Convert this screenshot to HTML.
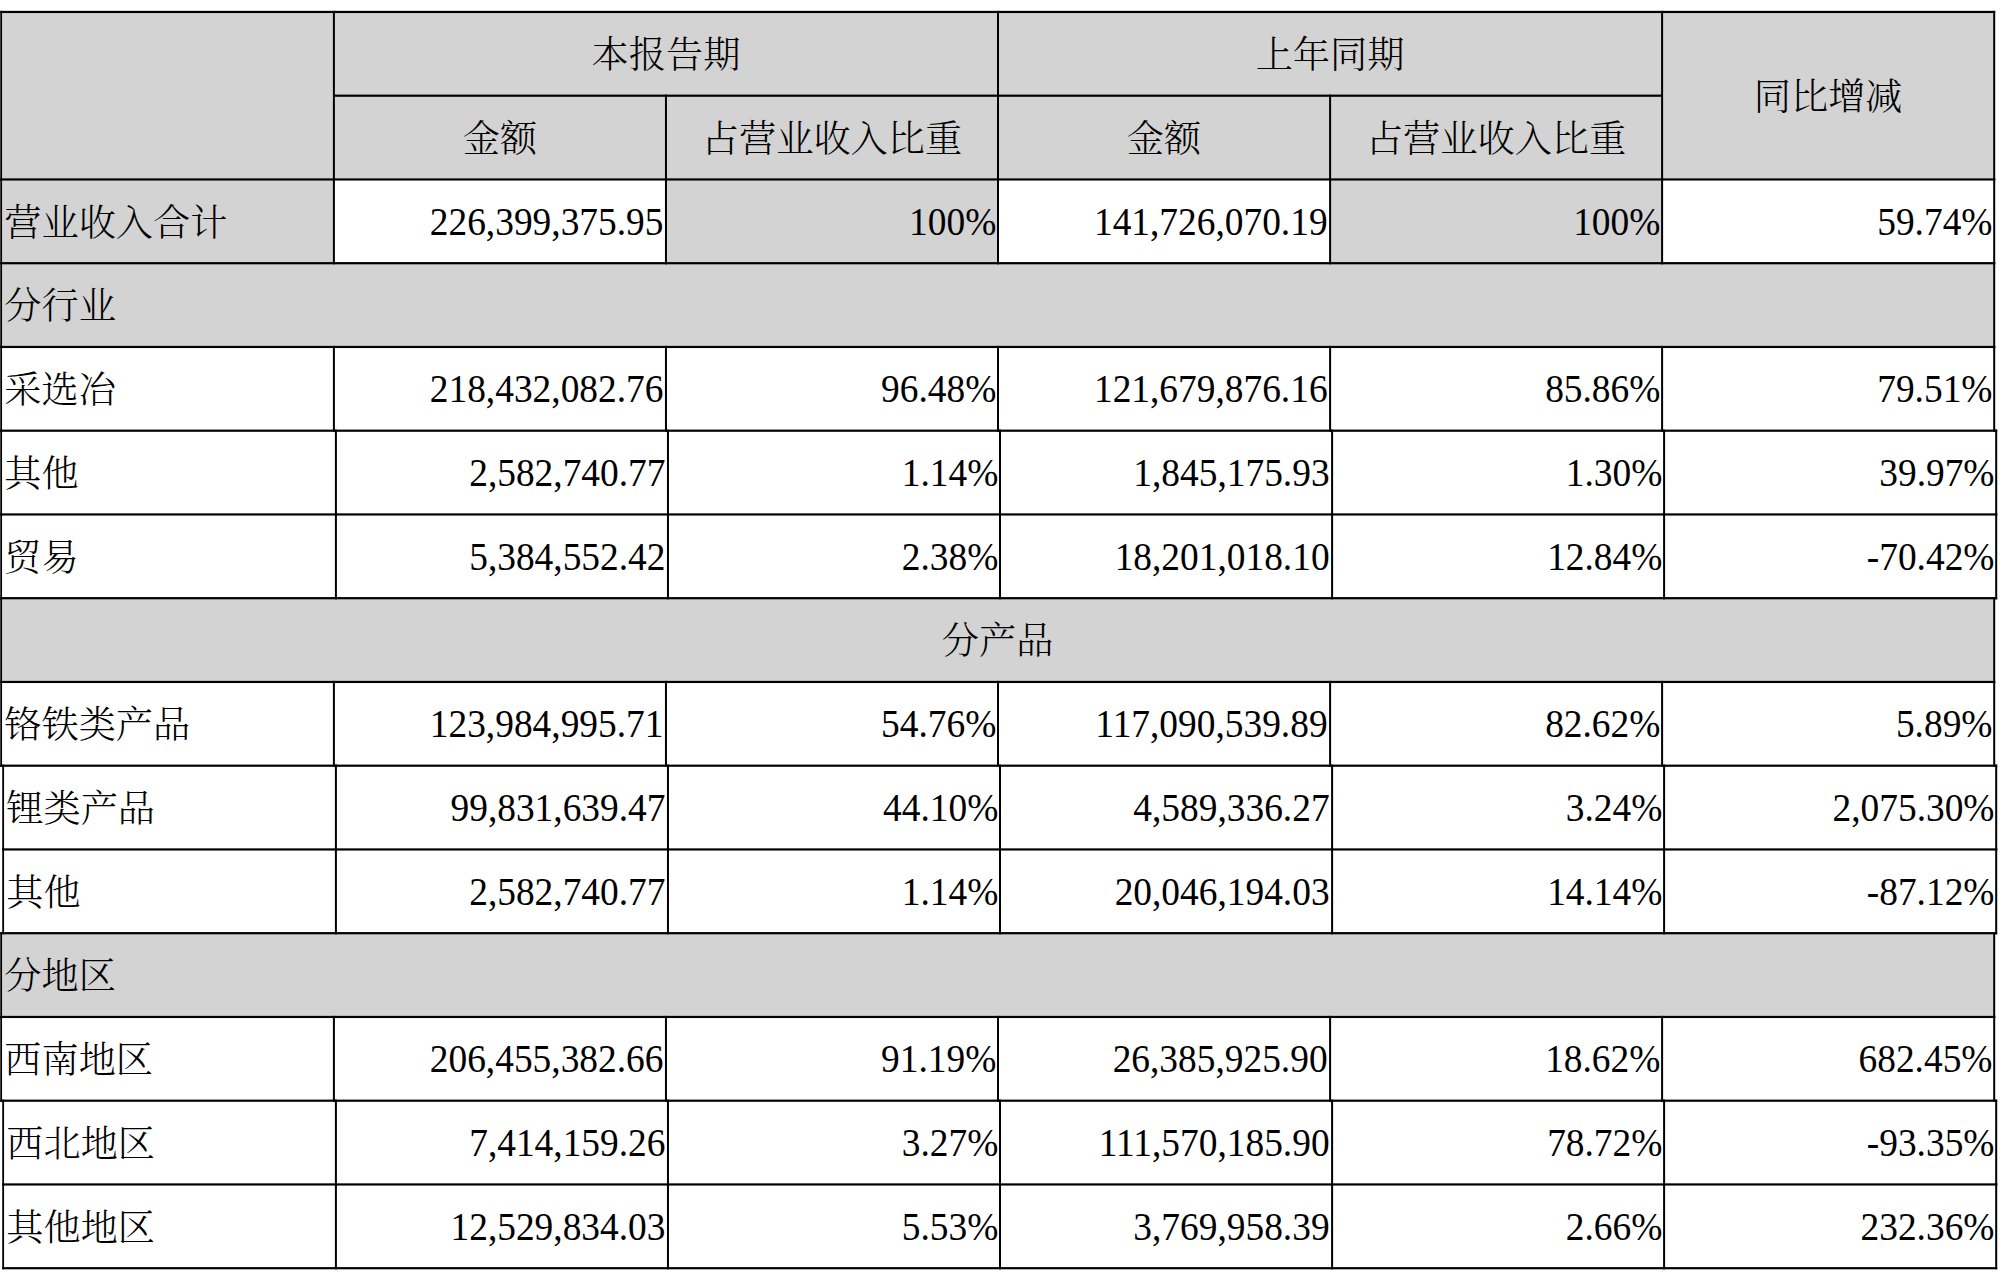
<!DOCTYPE html>
<html lang="zh-CN"><head><meta charset="utf-8"><title>营业收入构成</title>
<style>
html,body{margin:0;padding:0;background:#fff;}
body{width:2012px;height:1273px;overflow:hidden;}
svg{display:block;position:absolute;left:0;top:0;}
text{font-family:"Liberation Serif","Noto Serif CJK SC",serif;fill:#000;}
text.c{font-size:37.2px;font-weight:300;}
text.n{font-size:37.4px;}
</style></head><body>
<svg width="2012" height="1273" viewBox="0 0 2012 1273">
<g>
<rect x="1.00" y="10.85" width="1993.20" height="167.50" fill="#d3d3d3"/>
<rect x="1.00" y="262.10" width="1993.20" height="83.75" fill="#d3d3d3"/>
<rect x="1.00" y="597.10" width="1993.20" height="83.75" fill="#d3d3d3"/>
<rect x="1.00" y="932.10" width="1993.20" height="83.75" fill="#d3d3d3"/>
<rect x="1.00" y="178.35" width="332.90" height="83.75" fill="#d3d3d3"/>
<rect x="665.96" y="178.35" width="332.04" height="83.75" fill="#d3d3d3"/>
<rect x="1330.10" y="178.35" width="332.00" height="83.75" fill="#d3d3d3"/>
</g>
<g>
<rect x="0.25" y="10.85" width="1994.95" height="2.20" fill="#000"/>
<rect x="333.90" y="94.60" width="1328.20" height="2.20" fill="#000"/>
<rect x="0.25" y="10.85" width="1.80" height="169.70" fill="#000"/>
<rect x="332.90" y="10.85" width="2.00" height="169.70" fill="#000"/>
<rect x="997.00" y="10.85" width="2.00" height="169.70" fill="#000"/>
<rect x="1661.10" y="10.85" width="2.00" height="169.70" fill="#000"/>
<rect x="1993.20" y="10.85" width="2.00" height="169.70" fill="#000"/>
<rect x="664.96" y="94.60" width="2.00" height="85.95" fill="#000"/>
<rect x="1329.10" y="94.60" width="2.00" height="85.95" fill="#000"/>
<rect x="0.25" y="178.35" width="1994.95" height="2.20" fill="#000"/>
<rect x="0.25" y="262.10" width="1.80" height="85.95" fill="#000"/>
<rect x="1993.20" y="262.10" width="2.00" height="85.95" fill="#000"/>
<rect x="0.25" y="597.10" width="1.80" height="85.95" fill="#000"/>
<rect x="1993.20" y="597.10" width="2.00" height="85.95" fill="#000"/>
<rect x="0.25" y="932.10" width="1.80" height="85.95" fill="#000"/>
<rect x="1993.20" y="932.10" width="2.00" height="85.95" fill="#000"/>
<rect x="0.25" y="178.35" width="1.80" height="85.95" fill="#000"/>
<rect x="332.90" y="178.35" width="2.00" height="85.95" fill="#000"/>
<rect x="664.96" y="178.35" width="2.00" height="85.95" fill="#000"/>
<rect x="997.00" y="178.35" width="2.00" height="85.95" fill="#000"/>
<rect x="1329.10" y="178.35" width="2.00" height="85.95" fill="#000"/>
<rect x="1661.10" y="178.35" width="2.00" height="85.95" fill="#000"/>
<rect x="1993.20" y="178.35" width="2.00" height="85.95" fill="#000"/>
<rect x="0.25" y="345.85" width="1.80" height="85.95" fill="#000"/>
<rect x="332.90" y="345.85" width="2.00" height="85.95" fill="#000"/>
<rect x="664.96" y="345.85" width="2.00" height="85.95" fill="#000"/>
<rect x="997.00" y="345.85" width="2.00" height="85.95" fill="#000"/>
<rect x="1329.10" y="345.85" width="2.00" height="85.95" fill="#000"/>
<rect x="1661.10" y="345.85" width="2.00" height="85.95" fill="#000"/>
<rect x="1993.20" y="345.85" width="2.00" height="85.95" fill="#000"/>
<rect x="0.25" y="429.60" width="1.80" height="85.95" fill="#000"/>
<rect x="334.90" y="429.60" width="2.00" height="85.95" fill="#000"/>
<rect x="666.96" y="429.60" width="2.00" height="85.95" fill="#000"/>
<rect x="999.00" y="429.60" width="2.00" height="85.95" fill="#000"/>
<rect x="1331.10" y="429.60" width="2.00" height="85.95" fill="#000"/>
<rect x="1663.10" y="429.60" width="2.00" height="85.95" fill="#000"/>
<rect x="1995.20" y="429.60" width="2.00" height="85.95" fill="#000"/>
<rect x="0.25" y="513.35" width="1.80" height="85.95" fill="#000"/>
<rect x="334.90" y="513.35" width="2.00" height="85.95" fill="#000"/>
<rect x="666.96" y="513.35" width="2.00" height="85.95" fill="#000"/>
<rect x="999.00" y="513.35" width="2.00" height="85.95" fill="#000"/>
<rect x="1331.10" y="513.35" width="2.00" height="85.95" fill="#000"/>
<rect x="1663.10" y="513.35" width="2.00" height="85.95" fill="#000"/>
<rect x="1995.20" y="513.35" width="2.00" height="85.95" fill="#000"/>
<rect x="0.25" y="680.85" width="1.80" height="85.95" fill="#000"/>
<rect x="332.90" y="680.85" width="2.00" height="85.95" fill="#000"/>
<rect x="664.96" y="680.85" width="2.00" height="85.95" fill="#000"/>
<rect x="997.00" y="680.85" width="2.00" height="85.95" fill="#000"/>
<rect x="1329.10" y="680.85" width="2.00" height="85.95" fill="#000"/>
<rect x="1661.10" y="680.85" width="2.00" height="85.95" fill="#000"/>
<rect x="1993.20" y="680.85" width="2.00" height="85.95" fill="#000"/>
<rect x="2.25" y="764.60" width="1.80" height="85.95" fill="#000"/>
<rect x="334.90" y="764.60" width="2.00" height="85.95" fill="#000"/>
<rect x="666.96" y="764.60" width="2.00" height="85.95" fill="#000"/>
<rect x="999.00" y="764.60" width="2.00" height="85.95" fill="#000"/>
<rect x="1331.10" y="764.60" width="2.00" height="85.95" fill="#000"/>
<rect x="1663.10" y="764.60" width="2.00" height="85.95" fill="#000"/>
<rect x="1995.20" y="764.60" width="2.00" height="85.95" fill="#000"/>
<rect x="2.25" y="848.35" width="1.80" height="85.95" fill="#000"/>
<rect x="334.90" y="848.35" width="2.00" height="85.95" fill="#000"/>
<rect x="666.96" y="848.35" width="2.00" height="85.95" fill="#000"/>
<rect x="999.00" y="848.35" width="2.00" height="85.95" fill="#000"/>
<rect x="1331.10" y="848.35" width="2.00" height="85.95" fill="#000"/>
<rect x="1663.10" y="848.35" width="2.00" height="85.95" fill="#000"/>
<rect x="1995.20" y="848.35" width="2.00" height="85.95" fill="#000"/>
<rect x="0.25" y="1015.85" width="1.80" height="85.95" fill="#000"/>
<rect x="332.90" y="1015.85" width="2.00" height="85.95" fill="#000"/>
<rect x="664.96" y="1015.85" width="2.00" height="85.95" fill="#000"/>
<rect x="997.00" y="1015.85" width="2.00" height="85.95" fill="#000"/>
<rect x="1329.10" y="1015.85" width="2.00" height="85.95" fill="#000"/>
<rect x="1661.10" y="1015.85" width="2.00" height="85.95" fill="#000"/>
<rect x="1993.20" y="1015.85" width="2.00" height="85.95" fill="#000"/>
<rect x="2.25" y="1099.60" width="1.80" height="85.95" fill="#000"/>
<rect x="334.90" y="1099.60" width="2.00" height="85.95" fill="#000"/>
<rect x="666.96" y="1099.60" width="2.00" height="85.95" fill="#000"/>
<rect x="999.00" y="1099.60" width="2.00" height="85.95" fill="#000"/>
<rect x="1331.10" y="1099.60" width="2.00" height="85.95" fill="#000"/>
<rect x="1663.10" y="1099.60" width="2.00" height="85.95" fill="#000"/>
<rect x="1995.20" y="1099.60" width="2.00" height="85.95" fill="#000"/>
<rect x="2.25" y="1183.35" width="1.80" height="85.95" fill="#000"/>
<rect x="334.90" y="1183.35" width="2.00" height="85.95" fill="#000"/>
<rect x="666.96" y="1183.35" width="2.00" height="85.95" fill="#000"/>
<rect x="999.00" y="1183.35" width="2.00" height="85.95" fill="#000"/>
<rect x="1331.10" y="1183.35" width="2.00" height="85.95" fill="#000"/>
<rect x="1663.10" y="1183.35" width="2.00" height="85.95" fill="#000"/>
<rect x="1995.20" y="1183.35" width="2.00" height="85.95" fill="#000"/>
<rect x="0.25" y="262.10" width="1994.95" height="2.20" fill="#000"/>
<rect x="0.25" y="345.85" width="1994.95" height="2.20" fill="#000"/>
<rect x="0.25" y="429.60" width="1996.95" height="2.20" fill="#000"/>
<rect x="0.25" y="513.35" width="1996.95" height="2.20" fill="#000"/>
<rect x="0.25" y="597.10" width="1996.95" height="2.20" fill="#000"/>
<rect x="0.25" y="680.85" width="1994.95" height="2.20" fill="#000"/>
<rect x="0.25" y="764.60" width="1996.95" height="2.20" fill="#000"/>
<rect x="2.25" y="848.35" width="1994.95" height="2.20" fill="#000"/>
<rect x="0.25" y="932.10" width="1996.95" height="2.20" fill="#000"/>
<rect x="0.25" y="1015.85" width="1994.95" height="2.20" fill="#000"/>
<rect x="0.25" y="1099.60" width="1996.95" height="2.20" fill="#000"/>
<rect x="2.25" y="1183.35" width="1994.95" height="2.20" fill="#000"/>
<rect x="2.25" y="1267.10" width="1994.95" height="2.20" fill="#000"/>
</g>
<g>
<text class="c" x="665.95" y="68.22" text-anchor="middle">本报告期</text>
<text class="c" x="1330.05" y="68.22" text-anchor="middle">上年同期</text>
<text class="c" x="1828.15" y="110.10" text-anchor="middle">同比增减</text>
<text class="c" x="499.93" y="151.97" text-anchor="middle">金额</text>
<text class="c" x="831.98" y="151.97" text-anchor="middle">占营业收入比重</text>
<text class="c" x="1164.05" y="151.97" text-anchor="middle">金额</text>
<text class="c" x="1496.10" y="151.97" text-anchor="middle">占营业收入比重</text>
<text class="c" x="4.30" y="319.48" text-anchor="start">分行业</text>
<text class="c" x="997.60" y="654.48" text-anchor="middle">分产品</text>
<text class="c" x="4.30" y="989.48" text-anchor="start">分地区</text>
<text class="c" x="4.30" y="235.73" text-anchor="start">营业收入合计</text>
<text class="n" x="663.46" y="223.548" text-anchor="end" transform="scale(1,1.05)">226,399,375.95</text>
<text class="n" x="996.30" y="223.548" text-anchor="end" transform="scale(1,1.05)">100%</text>
<text class="n" x="1327.60" y="223.548" text-anchor="end" transform="scale(1,1.05)">141,726,070.19</text>
<text class="n" x="1660.40" y="223.548" text-anchor="end" transform="scale(1,1.05)">100%</text>
<text class="n" x="1992.50" y="223.548" text-anchor="end" transform="scale(1,1.05)">59.74%</text>
<text class="c" x="4.30" y="403.23" text-anchor="start">采选冶</text>
<text class="n" x="663.46" y="383.071" text-anchor="end" transform="scale(1,1.05)">218,432,082.76</text>
<text class="n" x="996.30" y="383.071" text-anchor="end" transform="scale(1,1.05)">96.48%</text>
<text class="n" x="1327.60" y="383.071" text-anchor="end" transform="scale(1,1.05)">121,679,876.16</text>
<text class="n" x="1660.40" y="383.071" text-anchor="end" transform="scale(1,1.05)">85.86%</text>
<text class="n" x="1992.50" y="383.071" text-anchor="end" transform="scale(1,1.05)">79.51%</text>
<text class="c" x="4.30" y="486.98" text-anchor="start">其他</text>
<text class="n" x="665.46" y="462.833" text-anchor="end" transform="scale(1,1.05)">2,582,740.77</text>
<text class="n" x="998.30" y="462.833" text-anchor="end" transform="scale(1,1.05)">1.14%</text>
<text class="n" x="1329.60" y="462.833" text-anchor="end" transform="scale(1,1.05)">1,845,175.93</text>
<text class="n" x="1662.40" y="462.833" text-anchor="end" transform="scale(1,1.05)">1.30%</text>
<text class="n" x="1994.50" y="462.833" text-anchor="end" transform="scale(1,1.05)">39.97%</text>
<text class="c" x="4.30" y="570.73" text-anchor="start">贸易</text>
<text class="n" x="665.46" y="542.595" text-anchor="end" transform="scale(1,1.05)">5,384,552.42</text>
<text class="n" x="998.30" y="542.595" text-anchor="end" transform="scale(1,1.05)">2.38%</text>
<text class="n" x="1329.60" y="542.595" text-anchor="end" transform="scale(1,1.05)">18,201,018.10</text>
<text class="n" x="1662.40" y="542.595" text-anchor="end" transform="scale(1,1.05)">12.84%</text>
<text class="n" x="1994.50" y="542.595" text-anchor="end" transform="scale(1,1.05)">-70.42%</text>
<text class="c" x="4.30" y="738.23" text-anchor="start">铬铁类产品</text>
<text class="n" x="663.46" y="702.119" text-anchor="end" transform="scale(1,1.05)">123,984,995.71</text>
<text class="n" x="996.30" y="702.119" text-anchor="end" transform="scale(1,1.05)">54.76%</text>
<text class="n" x="1327.60" y="702.119" text-anchor="end" transform="scale(1,1.05)">117,090,539.89</text>
<text class="n" x="1660.40" y="702.119" text-anchor="end" transform="scale(1,1.05)">82.62%</text>
<text class="n" x="1992.50" y="702.119" text-anchor="end" transform="scale(1,1.05)">5.89%</text>
<text class="c" x="6.30" y="821.98" text-anchor="start">锂类产品</text>
<text class="n" x="665.46" y="781.881" text-anchor="end" transform="scale(1,1.05)">99,831,639.47</text>
<text class="n" x="998.30" y="781.881" text-anchor="end" transform="scale(1,1.05)">44.10%</text>
<text class="n" x="1329.60" y="781.881" text-anchor="end" transform="scale(1,1.05)">4,589,336.27</text>
<text class="n" x="1662.40" y="781.881" text-anchor="end" transform="scale(1,1.05)">3.24%</text>
<text class="n" x="1994.50" y="781.881" text-anchor="end" transform="scale(1,1.05)">2,075.30%</text>
<text class="c" x="6.30" y="905.73" text-anchor="start">其他</text>
<text class="n" x="665.46" y="861.643" text-anchor="end" transform="scale(1,1.05)">2,582,740.77</text>
<text class="n" x="998.30" y="861.643" text-anchor="end" transform="scale(1,1.05)">1.14%</text>
<text class="n" x="1329.60" y="861.643" text-anchor="end" transform="scale(1,1.05)">20,046,194.03</text>
<text class="n" x="1662.40" y="861.643" text-anchor="end" transform="scale(1,1.05)">14.14%</text>
<text class="n" x="1994.50" y="861.643" text-anchor="end" transform="scale(1,1.05)">-87.12%</text>
<text class="c" x="4.30" y="1073.22" text-anchor="start">西南地区</text>
<text class="n" x="663.46" y="1021.167" text-anchor="end" transform="scale(1,1.05)">206,455,382.66</text>
<text class="n" x="996.30" y="1021.167" text-anchor="end" transform="scale(1,1.05)">91.19%</text>
<text class="n" x="1327.60" y="1021.167" text-anchor="end" transform="scale(1,1.05)">26,385,925.90</text>
<text class="n" x="1660.40" y="1021.167" text-anchor="end" transform="scale(1,1.05)">18.62%</text>
<text class="n" x="1992.50" y="1021.167" text-anchor="end" transform="scale(1,1.05)">682.45%</text>
<text class="c" x="6.30" y="1156.97" text-anchor="start">西北地区</text>
<text class="n" x="665.46" y="1100.929" text-anchor="end" transform="scale(1,1.05)">7,414,159.26</text>
<text class="n" x="998.30" y="1100.929" text-anchor="end" transform="scale(1,1.05)">3.27%</text>
<text class="n" x="1329.60" y="1100.929" text-anchor="end" transform="scale(1,1.05)">111,570,185.90</text>
<text class="n" x="1662.40" y="1100.929" text-anchor="end" transform="scale(1,1.05)">78.72%</text>
<text class="n" x="1994.50" y="1100.929" text-anchor="end" transform="scale(1,1.05)">-93.35%</text>
<text class="c" x="6.30" y="1240.72" text-anchor="start">其他地区</text>
<text class="n" x="665.46" y="1180.690" text-anchor="end" transform="scale(1,1.05)">12,529,834.03</text>
<text class="n" x="998.30" y="1180.690" text-anchor="end" transform="scale(1,1.05)">5.53%</text>
<text class="n" x="1329.60" y="1180.690" text-anchor="end" transform="scale(1,1.05)">3,769,958.39</text>
<text class="n" x="1662.40" y="1180.690" text-anchor="end" transform="scale(1,1.05)">2.66%</text>
<text class="n" x="1994.50" y="1180.690" text-anchor="end" transform="scale(1,1.05)">232.36%</text>
</g>
</svg>
</body></html>
